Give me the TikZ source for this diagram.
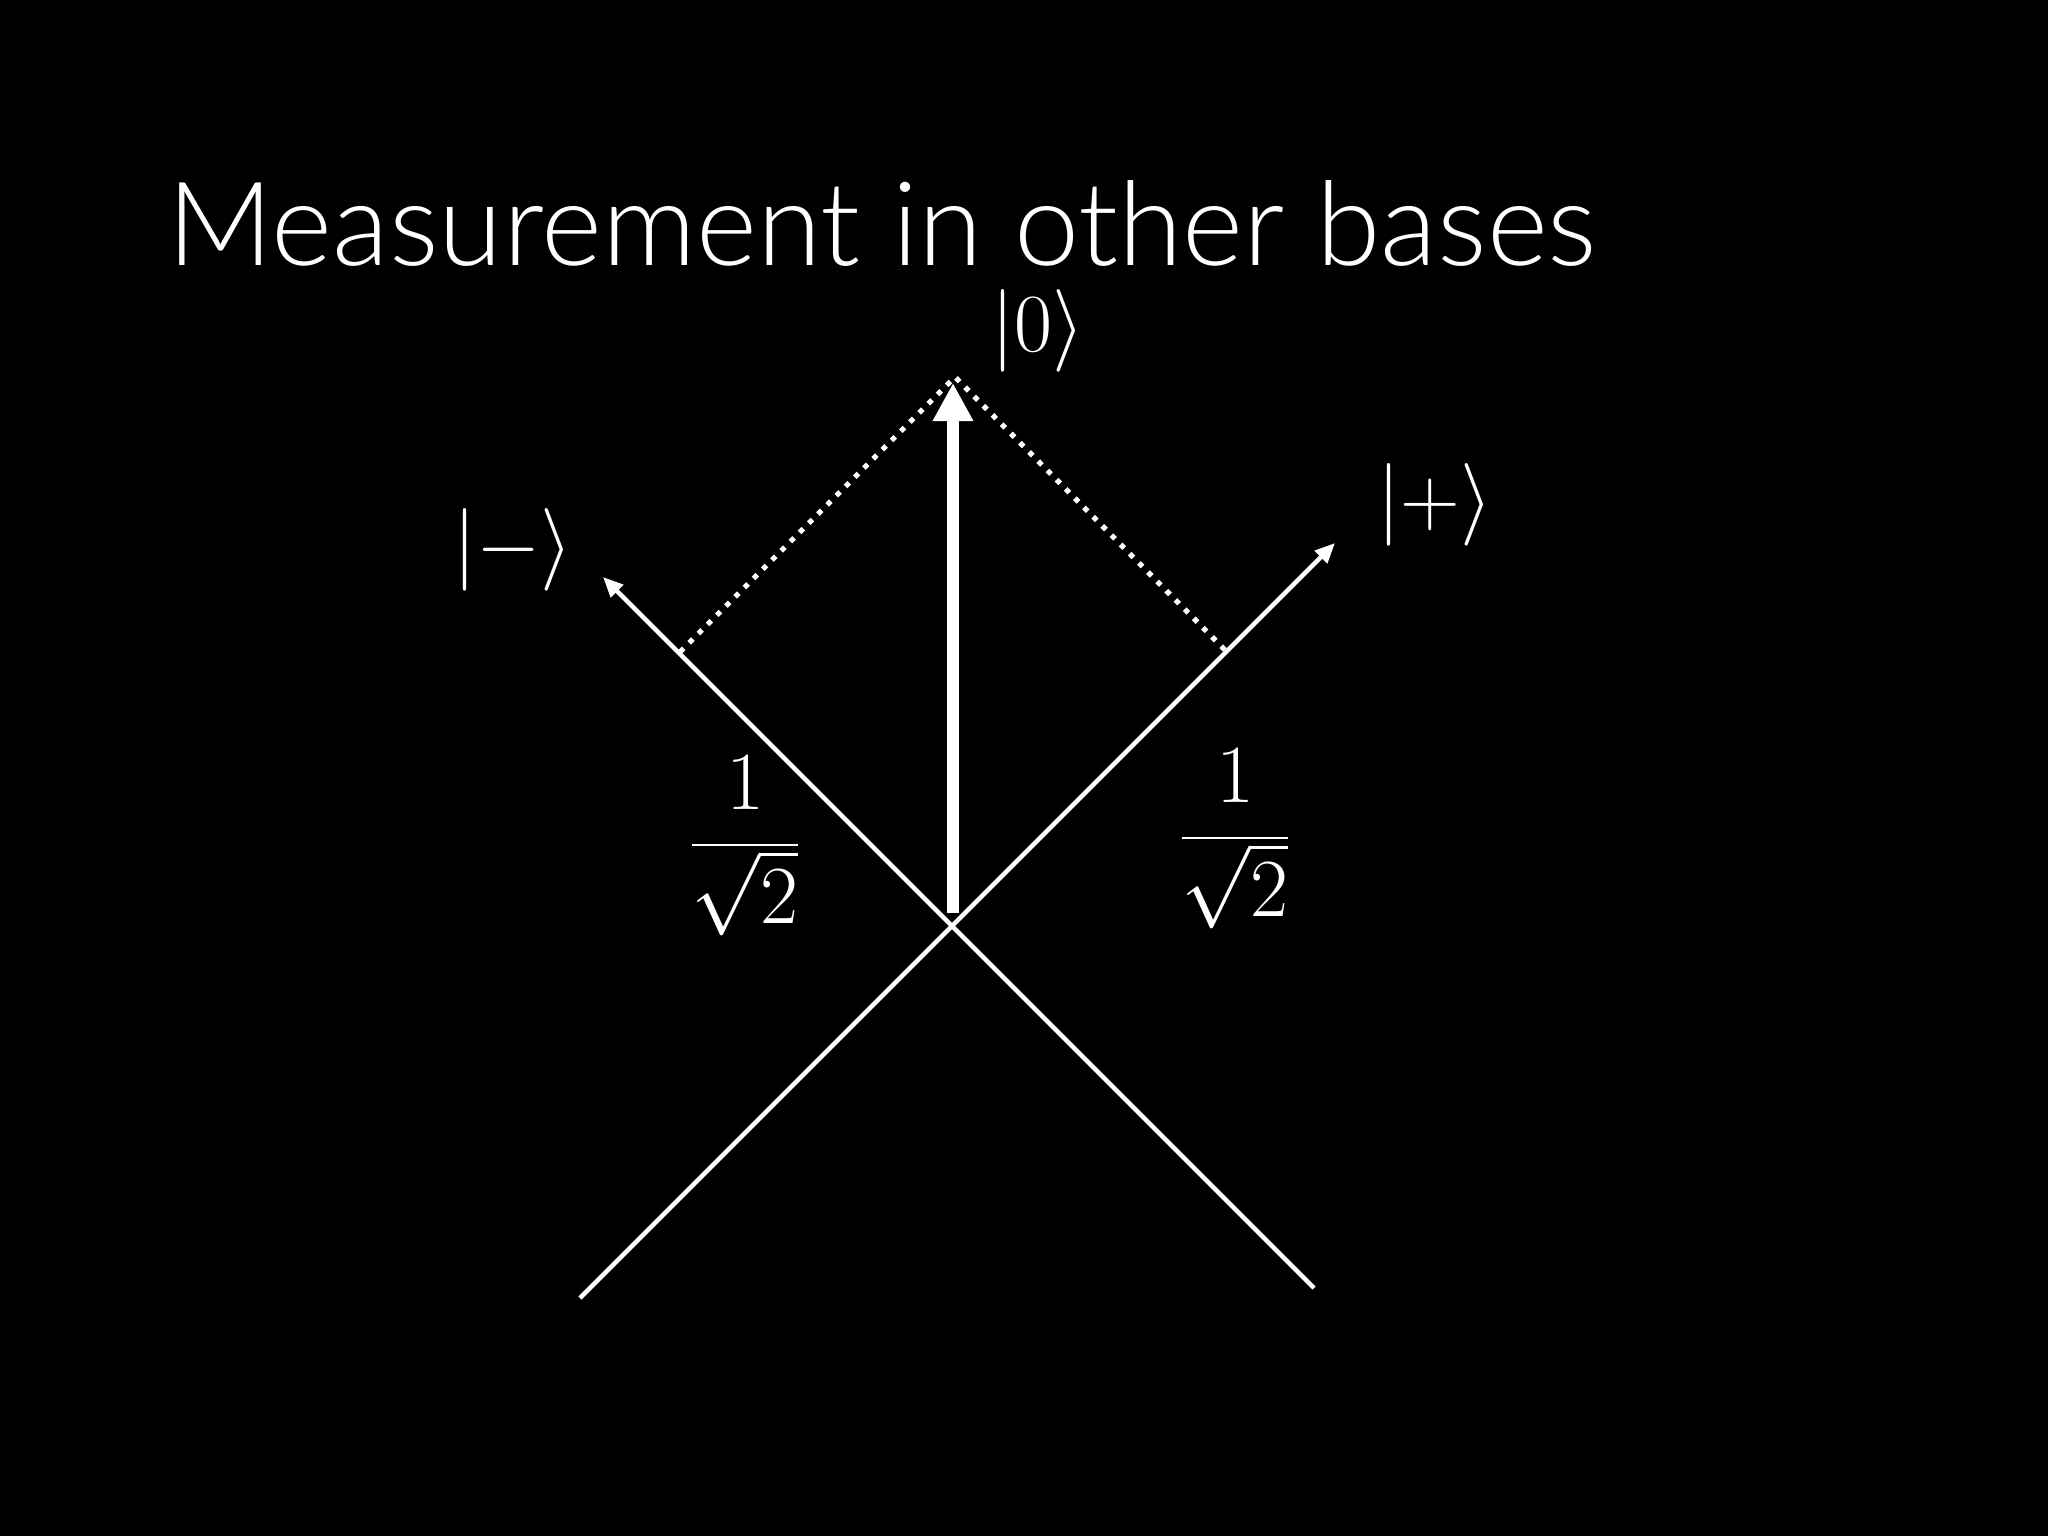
\RequirePackage{fix-cm}
\documentclass[tikz,border=0pt]{standalone}
\usepackage[no-math]{fontspec}
\setmainfont{Carlito}
\newfontfamily\titlefont{Lato Light}
\usetikzlibrary{arrows.meta}
\begin{document}
\begin{tikzpicture}[x=0.01cm,y=-0.01cm,
  axisline/.style={white,line width=0.045cm,-{Triangle[length=0.2cm,width=0.17cm]}},
  statevec/.style={white,line width=0.12cm,-{Triangle[length=0.38cm,width=0.38cm]}},
  projline/.style={white,line width=0.052cm,dash pattern=on 0.052cm off 0.078cm},
  mathlbl/.style={text=white,inner sep=0pt,font=\fontsize{23.5}{28}\selectfont},
  titlelbl/.style={text=white,inner sep=0pt,anchor=base west,font=\titlefont\fontsize{33.2}{40}\selectfont}]
\fill[black] (0,0) rectangle (2048,1536);
\useasboundingbox (0,0) rectangle (2048,1536);
% title
\node[titlelbl] (title) at (167,265) {Measurement in other bases};
% geometry
\coordinate (C) at (952,927);
\coordinate (P) at (1335,543);
\coordinate (Pl) at (580,1298);
\coordinate (M) at (603,577);
\coordinate (Ml) at (1314,1288);
\coordinate (B) at (953,913);
\coordinate (T) at (953,383);
\coordinate (A) at (955,377);
\coordinate (projP) at (1226,651);
\coordinate (projM) at (680,652);
% axes
\draw[axisline] (Pl) -- (P);
\draw[axisline] (Ml) -- (M);
% projections
\draw[projline] (projM) -- (A) -- (projP);
% state vector
\draw[statevec] (B) -- (T);
% labels
\node[mathlbl] (ket0) at (1038,331) {$|0\rangle$};
\node[mathlbl] (ketp) at (1435,505) {$|+\rangle$};
\node[mathlbl] (ketm) at (513,550) {$|-\rangle$};
\node[mathlbl] (fracm) at (745,846) {$\displaystyle\frac{1}{\sqrt{2}}$};
\node[mathlbl] (fracp) at (1235,839) {$\displaystyle\frac{1}{\sqrt{2}}$};
\end{tikzpicture}
\end{document}
